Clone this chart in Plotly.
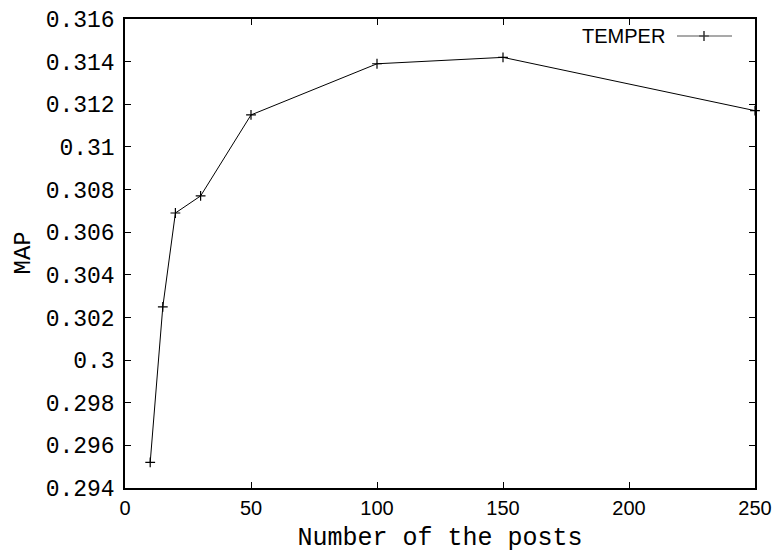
import plotly.graph_objects as go

posts = [10, 15, 20, 30, 50, 100, 150, 250]
map_vals = [0.2952, 0.3025, 0.3069, 0.3077, 0.3115, 0.3139, 0.3142, 0.3117]
series_name = "TEMPER"

x_ticks = [0, 50, 100, 150, 200, 250]
y_ticks = [0.294, 0.296, 0.298, 0.300, 0.302, 0.304, 0.306, 0.308, 0.310, 0.312, 0.314, 0.316]
y_tick_text = ["0.294", "0.296", "0.298", "0.3", "0.302", "0.304", "0.306", "0.308", "0.31", "0.312", "0.314", "0.316"]

L, R, T, B = 125, 23, 19, 66
W, H = 778, 554
pw, ph = W - L - R, H - T - B

def px(xp):
    return (xp - L) / pw

def py(yp):
    return (H - B - yp) / ph

fig = go.Figure()
fig.add_trace(go.Scatter(
    x=posts, y=map_vals, mode="lines+markers", name=series_name,
    line=dict(color="black", width=1),
    marker=dict(symbol="cross-thin", size=7, line=dict(color="black", width=1.2)),
    showlegend=False, cliponaxis=False,
))

# legend sample (gnuplot style: text left of sample)
fig.add_trace(go.Scatter(
    x=[px(704)], y=[py(36)], mode="markers", xaxis="x2", yaxis="y2",
    marker=dict(symbol="cross-thin", size=7, line=dict(color="black", width=1.2)),
    showlegend=False, hoverinfo="skip", cliponaxis=False,
))
fig.add_shape(type="line", xref="paper", yref="paper",
              x0=px(677), x1=px(732), y0=py(36), y1=py(36),
              line=dict(color="#555555", width=1.2))
fig.add_annotation(text=series_name, xref="paper", yref="paper",
                   x=px(667), y=py(36), xanchor="right", yanchor="middle",
                   showarrow=False, font=dict(family="Liberation Sans", size=20, color="black"))

mono = "Liberation Mono"
fig.add_annotation(text="MAP", xref="paper", yref="paper", textangle=-90,
                   x=px(23), y=0.5, xanchor="center", yanchor="middle",
                   showarrow=False, font=dict(family=mono, size=24, color="black"))

fig.update_layout(
    width=W, height=H,
    margin=dict(l=L, r=R, t=T, b=B, autoexpand=False),
    plot_bgcolor="white", paper_bgcolor="white",
    xaxis=dict(
        range=[0, 250], tickvals=x_ticks, ticks="inside", ticklen=6, tickwidth=1,
        tickcolor="black", showline=True, linecolor="black", linewidth=1.5,
        mirror="ticks", showgrid=False, zeroline=False, automargin=False,
        tickfont=dict(family="Liberation Sans", size=20, color="black"),
        title=dict(text="Number of the posts", font=dict(family=mono, size=25, color="black"), standoff=10),
        ticklabelstandoff=1,
    ),
    yaxis=dict(
        range=[0.294, 0.316], tickvals=y_ticks, ticktext=y_tick_text, ticks="inside",
        ticklen=6, tickwidth=1, tickcolor="black", showline=True, linecolor="black",
        linewidth=1.5, mirror="ticks", showgrid=False, zeroline=False, automargin=False,
        tickfont=dict(family=mono, size=23, color="black"),
        ticklabelstandoff=4,
    ),
    xaxis2=dict(range=[0, 1], overlaying="x", visible=False),
    yaxis2=dict(range=[0, 1], overlaying="y", visible=False),
)

fig.write_html("out.html")
